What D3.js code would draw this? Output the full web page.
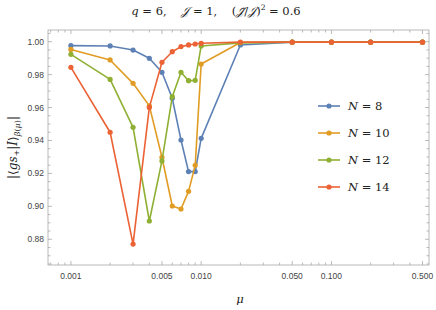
<!DOCTYPE html>
<html lang="en">
<head>
<meta charset="UTF-8">
<script src="https://cdn.jsdelivr.net/npm/d3@7"></script>
<style>
  body { margin: 0; background: #fff; }
  .tick-label { font-family: "Liberation Sans", Arial, sans-serif; font-size: 8.5px; fill: #444; }
  .serif { font-family: "DejaVu Serif", "Liberation Serif", serif; fill: #222; white-space: pre; }
</style>
</head>
<body>
<div id="chart"></div>
<script>
const width = 436, height = 310;
const margin = {top: 30, right: 7, bottom: 45, left: 48};

// mu values sampled
const mu = [0.001, 0.002, 0.003, 0.004, 0.005, 0.006, 0.007, 0.008, 0.009, 0.01, 0.02, 0.05, 0.1, 0.2, 0.5];
const seriesNames = ['N = 8', 'N = 10', 'N = 12', 'N = 14'];
const colors = ['#5E81B5', '#E19C24', '#8FB032', '#EB6235'];
const n8  = [0.9976, 0.9974, 0.9949, 0.9899, 0.9814, 0.9656, 0.9403, 0.9211, 0.9211, 0.9413, 0.9980, 0.9997, 0.9997, 0.9997, 0.9997];
const n10 = [0.9953, 0.9889, 0.9747, 0.9610, 0.9298, 0.9002, 0.8984, 0.9091, 0.9249, 0.9864, 0.9995, 0.9997, 0.9997, 0.9997, 0.9997];
const n12 = [0.9923, 0.9771, 0.9480, 0.8911, 0.9276, 0.9666, 0.9814, 0.9763, 0.9765, 0.9974, 0.9993, 0.9997, 0.9997, 0.9997, 0.9997];
const n14 = [0.9844, 0.9450, 0.8771, 0.9601, 0.9875, 0.9939, 0.9970, 0.9980, 0.9986, 0.9990, 0.9997, 0.9997, 0.9997, 0.9997, 0.9997];
const series = [n8, n10, n12, n14];

const xTickLabels = [0.001, 0.005, 0.01, 0.05, 0.1, 0.5];
const yTickLabels = [0.88, 0.90, 0.92, 0.94, 0.96, 0.98, 1.00];

const x = d3.scaleLog()
  .domain([0.000667, 0.561])
  .range([margin.left, width - margin.right]);
const y = d3.scaleLinear()
  .domain([0.86438, 1.00709])
  .range([height - margin.bottom, margin.top]);

const svg = d3.select('#chart').append('svg')
  .attr('width', width)
  .attr('height', height);

// minor tick positions for log axis
const xMinor = [];
[0.0001, 0.001, 0.01, 0.1].forEach(function(dec) {
  for (let k = 1; k < 10; k++) {
    const v = dec * k;
    if (v >= x.domain()[0] && v <= x.domain()[1]) xMinor.push(v);
  }
});
const xMajor = xTickLabels;
const yMinor = d3.range(0.865, 1.0071, 0.005);

const x0 = x.range()[0], x1 = x.range()[1];
const y0 = y.range()[0], y1 = y.range()[1];

const axes = svg.append('g').attr('stroke', '#a8a8a8').attr('stroke-width', 0.8);

// frame
axes.append('rect')
  .attr('x', x0).attr('y', y1)
  .attr('width', x1 - x0).attr('height', y0 - y1)
  .attr('fill', 'none');

// x ticks bottom & top
xMinor.forEach(function(v) {
  const len = xMajor.some(m => Math.abs(m - v) < 1e-9) ? 4 : 2.5;
  axes.append('line').attr('x1', x(v)).attr('x2', x(v)).attr('y1', y0).attr('y2', y0 - len);
  axes.append('line').attr('x1', x(v)).attr('x2', x(v)).attr('y1', y1).attr('y2', y1 + len);
});
// y ticks left & right
yMinor.forEach(function(v) {
  const major = yTickLabels.some(m => Math.abs(m - v) < 1e-6);
  const len = major ? 4 : 2.5;
  axes.append('line').attr('y1', y(v)).attr('y2', y(v)).attr('x1', x0).attr('x2', x0 + len);
  axes.append('line').attr('y1', y(v)).attr('y2', y(v)).attr('x1', x1).attr('x2', x1 - len);
});

svg.append('g').selectAll('text')
  .data(xTickLabels)
  .join('text')
  .attr('class', 'tick-label')
  .attr('x', d => x(d))
  .attr('y', y0 + 14)
  .attr('text-anchor', 'middle')
  .text(d => d3.format('.3f')(d));

svg.append('g').selectAll('text')
  .data(yTickLabels)
  .join('text')
  .attr('class', 'tick-label')
  .attr('x', x0 - 4)
  .attr('y', d => y(d) + 3)
  .attr('text-anchor', 'end')
  .text(d => d3.format('.2f')(d));

// lines and points
const line = d3.line()
  .x((d, i) => x(mu[i]))
  .y(d => y(d));

const plot = svg.append('g');
series.forEach(function(s, j) {
  plot.append('path')
    .datum(s)
    .attr('fill', 'none')
    .attr('stroke', colors[j])
    .attr('stroke-width', 1.6)
    .attr('stroke-linejoin', 'round')
    .attr('d', line);
  plot.append('g').selectAll('circle')
    .data(s)
    .join('circle')
    .attr('cx', (d, i) => x(mu[i]))
    .attr('cy', d => y(d))
    .attr('r', 2.6)
    .attr('fill', colors[j]);
});

// legend
const legend = svg.append('g');
seriesNames.forEach(function(name, j) {
  const ly = 106 + j * 27;
  legend.append('line')
    .attr('x1', 318).attr('x2', 340)
    .attr('y1', ly).attr('y2', ly)
    .attr('stroke', colors[j]).attr('stroke-width', 1.6);
  legend.append('circle')
    .attr('cx', 329).attr('cy', ly).attr('r', 2.6).attr('fill', colors[j]);
  const t = legend.append('text')
    .attr('class', 'serif')
    .attr('x', 348).attr('y', ly + 4)
    .attr('font-size', 11.5);
  t.append('tspan').attr('font-style', 'italic').text('N');
  t.append('tspan').text(' = ' + name.split('= ')[1]);
});

// title
const title = svg.append('text')
  .attr('class', 'serif')
  .attr('x', 216).attr('y', 15)
  .attr('text-anchor', 'middle')
  .attr('font-size', 11.5);
title.append('tspan').attr('font-style', 'italic').text('q');
title.append('tspan').text(' = 6,    ');
title.append('tspan').attr('font-style', 'italic').text('\uD835\uDCA5');
title.append('tspan').text(' = 1,    (');
title.append('tspan').attr('font-style', 'italic').text('\uD835\uDCA5\u0303');
title.append('tspan').text('/');
title.append('tspan').attr('font-style', 'italic').text('\uD835\uDCA5');
title.append('tspan').text(')');
title.append('tspan').attr('font-size', 7.5).attr('dy', -5).text('2');
title.append('tspan').attr('dy', 5).text(' = 0.6');

// x label
svg.append('text')
  .attr('class', 'serif')
  .attr('x', 240).attr('y', 303)
  .attr('text-anchor', 'middle')
  .attr('font-size', 11.5)
  .attr('font-style', 'italic')
  .text('μ');

// y label
const yl = svg.append('text')
  .attr('class', 'serif')
  .attr('transform', 'translate(17,' + ((y0 + y1) / 2) + ') rotate(-90)')
  .attr('text-anchor', 'middle')
  .attr('font-size', 12);
yl.append('tspan').text('|⟨');
yl.append('tspan').attr('font-style', 'italic').text('gs');
yl.append('tspan').attr('font-size', 8).attr('dy', 2).text('+');
yl.append('tspan').attr('dy', -2).text('|');
yl.append('tspan').attr('font-style', 'italic').text('I');
yl.append('tspan').text('⟩');
yl.append('tspan').attr('font-size', 8).attr('dy', 3).attr('font-style', 'italic').text('β');
yl.append('tspan').attr('font-size', 8).text('(');
yl.append('tspan').attr('font-size', 8).attr('font-style', 'italic').text('μ');
yl.append('tspan').attr('font-size', 8).text(')');
yl.append('tspan').attr('dy', -3).text('|');
</script>
</body>
</html>
